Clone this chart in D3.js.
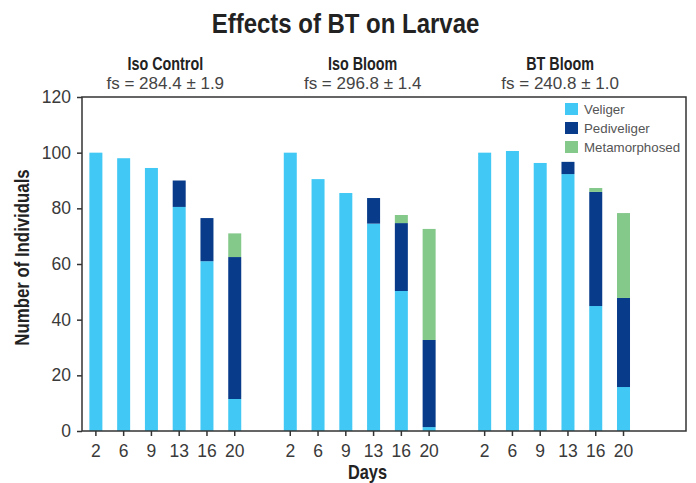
<!DOCTYPE html>
<html>
<head>
<meta charset="utf-8">
<script src="https://cdn.jsdelivr.net/npm/d3@7/dist/d3.min.js"></script>
<style>
  body { margin: 0; background: #fff; }
  svg { display: block; }
</style>
</head>
<body>
<svg id="chart" width="696" height="483"></svg>
<script>
// Treatments, sampling days and larval stage counts
const groups = ["Iso Control", "Iso Bloom", "BT Bloom"];
const fsLabels = ["fs = 284.4 ± 1.9", "fs = 296.8 ± 1.4", "fs = 240.8 ± 1.0"];
const days = ["2", "6", "9", "13", "16", "20"];
const stages = ["Veliger", "Pediveliger", "Metamorphosed"];
const stageColors = ["#41c8f4", "#083c8a", "#84c88a"];

const veliger = [
  [100, 98, 94.5, 80.5, 61, 11.5],
  [100, 90.5, 85.5, 74.5, 50.3, 1.4],
  [100, 100.6, 96.3, 92.3, 44.9, 15.8]
];
const pediveliger = [
  [0, 0, 0, 9.5, 15.5, 51],
  [0, 0, 0, 9.2, 24.4, 31.3],
  [0, 0, 0, 4.4, 41, 32]
];
const metamorphosed = [
  [0, 0, 0, 0, 0, 8.5],
  [0, 0, 0, 0, 2.9, 39.9],
  [0, 0, 0, 0, 1.4, 30.5]
];
const yTicks = [0, 20, 40, 60, 80, 100, 120];

// Layout
const W = 696, H = 483;
const plot = { left: 82, right: 686, top: 97, bottom: 431 };
const slotsPerGroup = days.length + 1; // one empty slot between groups
const nSlots = groups.length * slotsPerGroup - 1;
const slotStep = 27.77;

const svg = d3.select("#chart");

// One row per bar; slot index leaves a gap between treatment groups
const rows = [];
groups.forEach((g, gi) => {
  days.forEach((d, di) => {
    rows.push({
      key: g + "|" + d,
      group: g, day: d,
      slot: gi * slotsPerGroup + di,
      Veliger: veliger[gi][di],
      Pediveliger: pediveliger[gi][di],
      Metamorphosed: metamorphosed[gi][di]
    });
  });
});

const x = d3.scaleBand()
  .domain(d3.range(nSlots))
  .range([plot.left, plot.left + nSlots * slotStep])
  .paddingInner(0.532)
  .paddingOuter(0.266);

const y = d3.scaleLinear().domain([0, 120]).range([plot.bottom, plot.top]);

const series = d3.stack().keys(stages)(rows);

// Stacked bars
svg.append("g")
  .selectAll("g.layer")
  .data(series)
  .join("g")
  .attr("class", "layer")
  .attr("fill", (d, i) => stageColors[i])
  .selectAll("rect")
  .data(d => d.filter(p => p[1] - p[0] > 0))
  .join("rect")
  .attr("x", d => x(d.data.slot))
  .attr("width", x.bandwidth())
  .attr("y", d => y(d[1]))
  .attr("height", d => y(d[0]) - y(d[1]));

// Axes
const axisColor = "#333";
const tickFont = "Liberation Sans, Arial, sans-serif";

const yAxis = d3.axisLeft(y).tickValues(yTicks).tickSize(5).tickPadding(6);
const yg = svg.append("g").attr("transform", `translate(${plot.left},0)`).call(yAxis);

const xAxis = d3.axisBottom(x)
  .tickValues(rows.map(r => r.slot))
  .tickFormat(s => rows.find(r => r.slot === s).day)
  .tickSize(5).tickPadding(9);
const xg = svg.append("g").attr("transform", `translate(0,${plot.bottom})`).call(xAxis);

[yg, xg].forEach(g => {
  g.select(".domain").remove();
  g.selectAll(".tick line").attr("stroke", axisColor).attr("stroke-width", 1.5);
  g.selectAll(".tick text")
    .attr("fill", "#3a3a3a")
    .style("font-family", tickFont)
    .style("font-size", "17.5px");
});

// Frame
svg.append("rect")
  .attr("x", plot.left).attr("y", plot.top)
  .attr("width", plot.right - plot.left)
  .attr("height", plot.bottom - plot.top)
  .attr("fill", "none")
  .attr("stroke", axisColor)
  .attr("stroke-width", 1.5);

// Bold headings use a horizontally condensed sans
function condensedText(px, py, str, size, squeeze, rotate) {
  return svg.append("text")
    .attr("transform", `translate(${px},${py})` + (rotate ? ` rotate(${rotate})` : "") + ` scale(${squeeze},1)`)
    .attr("text-anchor", "middle")
    .style("font-family", tickFont)
    .style("font-weight", "bold")
    .style("font-size", size + "px")
    .attr("fill", "#222")
    .text(str);
}

// Title
condensedText(345.5, 33, "Effects of BT on Larvae", 28, 0.856);

// Group headings
groups.forEach((g, gi) => {
  const first = x(gi * slotsPerGroup);
  const last = x(gi * slotsPerGroup + days.length - 1) + x.bandwidth();
  const cx = (first + last) / 2 + gi * 3;
  condensedText(cx, 70, g, 17.5, 0.82);
  svg.append("text")
    .attr("x", cx).attr("y", 89)
    .attr("text-anchor", "middle")
    .style("font-family", tickFont)
    .style("font-size", "17px")
    .attr("fill", "#444")
    .text(fsLabels[gi]);
});

// Axis titles
condensedText(29, 257.5, "Number of Individuals", 20, 0.84, -90);
condensedText(367.5, 479, "Days", 19.5, 0.84);

// Legend
const legend = svg.append("g").attr("transform", "translate(565,103)");
stages.forEach((s, i) => {
  const row = legend.append("g").attr("transform", `translate(0,${i * 19})`);
  row.append("rect").attr("width", 13).attr("height", 12).attr("fill", stageColors[i]);
  row.append("text")
    .attr("x", 19).attr("y", 11)
    .style("font-family", tickFont)
    .style("font-size", "13.3px")
    .attr("fill", "#555")
    .text(s);
});
</script>
</body>
</html>
